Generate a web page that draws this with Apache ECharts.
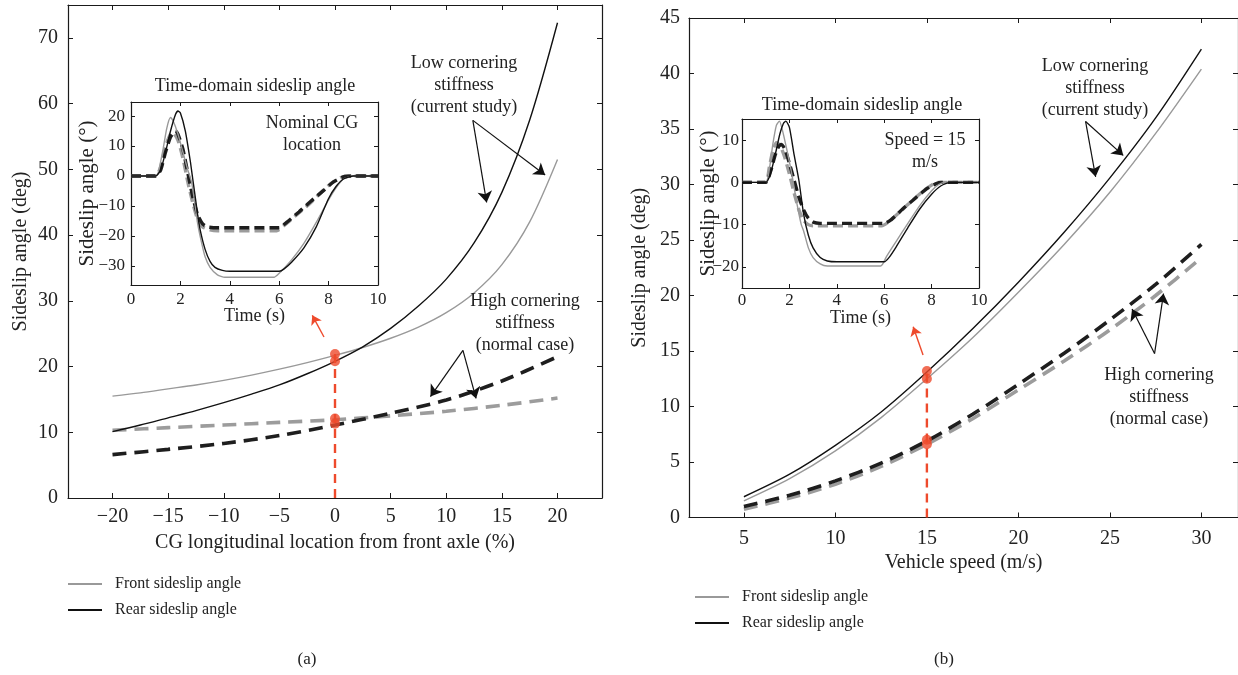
<!DOCTYPE html>
<html><head><meta charset="utf-8">
<script src="https://cdn.jsdelivr.net/npm/echarts@6/dist/echarts.min.js"></script>
<style>html,body{margin:0;padding:0;background:#fff}#c{width:1238px;height:675px}</style>
</head><body><div id="c"></div>
<script>
// ---------------- DATA ----------------
// Panel (a): CG longitudinal location (%)
const cgFine = [-20,-17.5,-15,-12.5,-10,-7.5,-5,-2.5,0,2.5,5,7.5,10,12.5,15,17.5,20];
const cgRearLow  = [10.1,11.1,12.2,13.3,14.5,15.8,17.2,18.9,20.8,23.0,25.8,29.2,33.3,38.8,46.5,57.5,72.3];
const cgFrontLow = [15.5,16.0,16.6,17.2,17.9,18.7,19.6,20.6,21.7,22.9,24.3,26.0,28.2,31.2,35.5,42.0,51.5];
const cgCoarse = [-20,-15,-10,-5,0,5,10,15,20];
const cgRearHigh  = [6.6,7.4,8.3,9.5,11.1,12.9,14.9,17.8,21.5];
const cgFrontHigh = [10.3,10.7,11.1,11.5,11.9,12.5,13.2,14.1,15.2];
const cgMarkX = 0;
const cgMarkY = [21.9,20.8,12.1,11.3];

// Panel (b): vehicle speed (m/s)
const speeds = [5,7.5,10,12.5,15,17.5,20,22.5,25,27.5,30];
const spRearLow   = [1.87,3.9,6.5,9.5,13.1,17.0,21.2,25.7,30.6,36.0,42.2];
const spFrontLow  = [1.5,3.5,6.0,9.0,12.5,16.2,20.3,24.6,29.3,34.6,40.4];
const spRearHigh  = [1.0,2.0,3.3,4.9,6.9,9.3,12.0,14.8,17.8,21.0,24.6];
const spFrontHigh = [0.75,1.75,3.0,4.6,6.6,8.9,11.5,14.1,16.9,20.0,23.4];
const spMarkX = 15;
const spMarkY = [13.2,12.5,7.0,6.6];

// Inset (a): time-domain, nominal CG location
const aRearLowT  = [0,1.0,1.2,1.4,1.6,1.8,1.9,2.0,2.2,2.4,2.5,2.6,2.7,2.8,3.0,3.2,3.4,3.7,4.0,6.0,6.2,6.5,7.0,7.5,8.0,8.3,8.6,9.0,10];
const aRearLowV  = [0,0,2,8,15,20.5,21.7,21,15,5,-1,-7,-13,-18,-24.5,-28.5,-30.5,-31.5,-31.8,-31.8,-31,-28.8,-24,-17,-7.5,-3.5,-1,0,0];
const aFrontLowT = [0,1.0,1.1,1.3,1.45,1.6,1.7,1.9,2.1,2.3,2.45,2.6,2.7,2.85,3.0,3.2,3.5,3.8,5.8,6.0,6.5,7.0,7.5,8.0,8.3,8.6,9.0,10];
const aFrontLowV = [0,0,1,9,16,19.5,18.5,14,8,2,-2,-10,-16,-22,-27,-30.5,-33,-33.8,-33.8,-32.5,-28,-22.5,-15.5,-8,-4,-1,0,0];
const aRearHighT = [0,1.0,1.2,1.4,1.6,1.8,1.9,2.1,2.3,2.5,2.7,2.9,3.1,3.5,6.0,6.3,6.8,7.3,7.8,8.2,8.6,9.0,10];
const aRearHighV = [0,0,2,8,13,15,14,9,1,-7,-13,-16,-17,-17.3,-17.3,-15.5,-12,-8.3,-4.8,-2,-0.3,0,0];
const aFrontHighT = [0,1.0,1.2,1.4,1.6,1.7,1.9,2.1,2.3,2.5,2.7,2.9,3.2,3.5,5.9,6.2,6.7,7.2,7.7,8.1,8.5,8.8,10];
const aFrontHighV = [0,0,3,10,14,14.5,12,6,-2,-9,-14.5,-17,-18,-18.3,-18.3,-16.5,-13,-9.5,-5.5,-2.5,-0.5,0,0];

// Inset (b): time-domain, speed = 15 m/s
const bRearLowT  = [0,1.0,1.2,1.4,1.6,1.75,1.85,2.0,2.2,2.4,2.6,2.8,3.0,3.3,3.6,4.0,6.0,6.2,6.5,7.0,7.5,8.0,8.4,8.8,10];
const bRearLowV  = [0,0,2,6.5,11.5,14,14.5,13,6.5,0.5,-7.5,-12.5,-15.5,-17.8,-18.6,-18.8,-18.8,-17.8,-15.3,-10.7,-6.3,-2.8,-0.8,0,0];
const bFrontLowT = [0,1.0,1.15,1.3,1.45,1.58,1.7,1.9,2.1,2.3,2.5,2.6,2.8,3.0,3.3,3.6,5.85,6.1,6.5,7.0,7.5,8.0,8.3,8.6,10];
const bFrontLowV = [0,0,3,9,13.5,14.5,12.5,7.5,2,-4.5,-10,-11.5,-15.5,-17.8,-19.3,-19.8,-19.8,-17.5,-14,-9.7,-5.5,-2,-0.5,0,0];
const bRearHighT = [0,1.0,1.2,1.4,1.55,1.65,1.8,2.0,2.2,2.4,2.6,2.8,3.0,3.3,6.0,6.3,6.8,7.3,7.8,8.2,8.4,10];
const bRearHighV = [0,0,2.5,6.5,8.5,9,8,4.5,0.5,-3.5,-6.5,-8.5,-9.4,-9.7,-9.7,-8.8,-6.2,-3.8,-1.5,-0.3,0,0];
const bFrontHighT = [0,1.0,1.15,1.3,1.45,1.6,1.8,2.0,2.2,2.4,2.6,2.8,3.0,5.9,6.2,6.7,7.2,7.7,8.1,8.3,10];
const bFrontHighV = [0,0,3.5,7.5,9.4,8.8,6,2,-2.5,-6.5,-9,-10,-10.3,-10.3,-9.3,-6.8,-4.2,-1.8,-0.3,0,0];

// Texts
const legendNames = ['Front sideslip angle','Rear sideslip angle'];
const xNameA = 'CG longitudinal location from front axle (%)';
const xNameB = 'Vehicle speed (m/s)';
const yNameMain = 'Sideslip angle (deg)';
const yNameInset = 'Sideslip angle (°)';
const xNameInset = 'Time (s)';
const insetTitle = 'Time-domain sideslip angle';

// ---------------- CHART ----------------
const FF = '"Liberation Serif", "DejaVu Serif", serif';
const INK = '#1a1a1a';
const RED = '#ee4a2c';
const pair = (xs, ys) => xs.map((x, i) => [x, ys[i]]);
const fmt = v => {
  if (Math.abs(v - Math.round(v)) > 1e-6) return '';
  return v < 0 ? '\u2212' + Math.abs(v) : String(v);
};
function fmtStep(step) {
  return v => (Math.abs(v / step - Math.round(v / step)) > 1e-6 ? '' : fmt(v));
}

function axis(kind, gridIndex, min, max, o) {
  o = o || {};
  const a = {
    type: 'value', gridIndex, min, max,
    position: o.position,
    axisLine: { show: true, onZero: false, lineStyle: { color: INK, width: 1.2 } },
    axisTick: { show: true, inside: true, length: o.tickLen || 5, lineStyle: { color: INK, width: 1 } },
    splitLine: { show: false },
    axisLabel: o.mirror ? { show: false } : {
      show: true, fontFamily: FF, fontSize: o.fontSize || 20, color: '#222',
      margin: o.margin, formatter: fmtStep(o.step), showMinLabel: o.showMin, showMaxLabel: o.showMax
    }
  };
  if (o.interval) a.interval = o.interval;
  if (o.splitNumber) a.splitNumber = o.splitNumber;
  if (o.name) {
    a.name = o.name; a.nameLocation = 'middle'; a.nameGap = o.nameGap;
    a.nameMoveOverlap = false;
    a.nameTextStyle = { fontFamily: FF, fontSize: o.nameSize || 20, color: '#222' };
    if (kind === 'y') a.nameRotate = 90;
  }
  return a;
}

const grids = [
  { left: 68, top: 5, width: 534, height: 493 },
  { left: 131, top: 102, width: 247, height: 183, show: true, backgroundColor: '#fff', borderWidth: 0 },
  { left: 689, top: 18, width: 549, height: 499.5 },
  { left: 742, top: 119, width: 237, height: 169, show: true, backgroundColor: '#fff', borderWidth: 0 }
];

const xAxes = [
  axis('x', 0, -24, 24, { splitNumber: 10, step: 5, margin: 9, showMin: false, showMax: false, name: xNameA, nameGap: 35 }),
  axis('x', 0, -24, 24, { splitNumber: 10, position: 'top', mirror: true }),
  axis('x', 1, 0, 10, { interval: 2, step: 2, margin: 6, fontSize: 17, tickLen: 4, name: xNameInset, nameGap: 22, nameSize: 18 }),
  axis('x', 1, 0, 10, { interval: 2, position: 'top', mirror: true, tickLen: 4 }),
  axis('x', 2, 2, 32, { splitNumber: 6, step: 5, margin: 11, showMin: false, showMax: false, name: xNameB, nameGap: 35 }),
  axis('x', 2, 2, 32, { splitNumber: 6, position: 'top', mirror: true }),
  axis('x', 3, 0, 10, { interval: 2, step: 2, margin: 4, fontSize: 17, tickLen: 4, name: xNameInset, nameGap: 21, nameSize: 18 }),
  axis('x', 3, 0, 10, { interval: 2, position: 'top', mirror: true, tickLen: 4 })
];
const yAxes = [
  axis('y', 0, 0, 75, { interval: 10, step: 10, margin: 10, showMax: false, name: yNameMain, nameGap: 37 }),
  axis('y', 0, 0, 75, { interval: 10, position: 'right', mirror: true }),
  axis('y', 1, -36.4, 24.7, { splitNumber: 6, step: 10, margin: 6, fontSize: 17, tickLen: 4, showMin: false, showMax: false, name: yNameInset, nameGap: 33, nameSize: 21 }),
  axis('y', 1, -36.4, 24.7, { splitNumber: 6, position: 'right', mirror: true, tickLen: 4 }),
  axis('y', 2, 0, 45, { interval: 5, step: 5, margin: 9, name: yNameMain, nameGap: 39 }),
  axis('y', 2, 0, 45, { interval: 5, position: 'right', mirror: true }),
  axis('y', 3, -25, 15, { splitNumber: 4, step: 10, margin: 3, fontSize: 17, tickLen: 4, showMin: false, showMax: false, name: yNameInset, nameGap: 23, nameSize: 21 }),
  axis('y', 3, -25, 15, { splitNumber: 4, position: 'right', mirror: true, tickLen: 4 })
];

const solidBlack = { color: '#111', width: 1.4 };
const solidGray = { color: '#999', width: 1.4 };
const dashBlack = { color: '#1e1e1e', width: 3.6, type: [14, 8] };
const dashGray = { color: '#9c9c9c', width: 3.6, type: [14, 8] };
const dashBlackS = { color: '#1e1e1e', width: 3.4, type: [10, 5] };
const dashGrayS = { color: '#9c9c9c', width: 3.4, type: [10, 5] };

function line(name, xi, data, style, extra) {
  return Object.assign({
    type: 'line', name, xAxisIndex: xi, yAxisIndex: xi, data,
    symbol: 'none', smooth: 0.3,
    lineStyle: style, itemStyle: { color: style.color },
    silent: true, animation: false, z: 3
  }, extra || {});
}
function arrows(segs, color, width, size) {
  return {
    silent: true, animation: false, symbol: ['none', 'arrow'], symbolSize: size,
    label: { show: false }, lineStyle: { color, width, type: 'solid' },
    data: segs.map(s => [{ coord: s[0] }, { coord: s[1] }])
  };
}

const series = [
  // panel (a) main
  line('Front high (a)', 0, pair(cgCoarse, cgFrontHigh), dashGray),
  line('Rear high (a)', 0, pair(cgCoarse, cgRearHigh), dashBlack),
  line(legendNames[0], 0, pair(cgFine, cgFrontLow), solidGray),
  line(legendNames[1], 0, pair(cgFine, cgRearLow), solidBlack, {
    markLine: arrows([
      [[12.39, 57.45], [13.63, 44.97]], [[12.39, 57.45], [18.89, 49.15]],
      [[11.5, 22.47], [8.58, 15.43]], [[11.5, 22.47], [12.68, 15.15]]
    ], '#111', 1.2, 11)
  }),
  line('marker line (a)', 0, [[cgMarkX, 0], [cgMarkX, cgMarkY[0]]], { color: RED, width: 2.4, type: [9, 6] }, {
    smooth: false, z: 5,
    markLine: arrows([[[-0.99, 24.49], [-2.04, 27.79]]], RED, 1.4, 9)
  }),
  { type: 'scatter', xAxisIndex: 0, yAxisIndex: 0, data: cgMarkY.map(y => [cgMarkX, y]), symbolSize: 10,
    itemStyle: { color: RED }, silent: true, animation: false, z: 6 },
  // inset (a)
  line('ia fh', 2, pair(aFrontHighT, aFrontHighV), dashGrayS, { z: 7, smooth: 0.2 }),
  line('ia rh', 2, pair(aRearHighT, aRearHighV), dashBlackS, { z: 7, smooth: 0.2 }),
  line('ia fl', 2, pair(aFrontLowT, aFrontLowV), solidGray, { z: 7, smooth: 0.2 }),
  line('ia rl', 2, pair(aRearLowT, aRearLowV), solidBlack, { z: 7, smooth: 0.2 }),
  // panel (b) main
  line('Front high (b)', 4, pair(speeds, spFrontHigh), dashGray),
  line('Rear high (b)', 4, pair(speeds, spRearHigh), dashBlack),
  line(legendNames[0], 4, pair(speeds, spFrontLow), solidGray),
  line(legendNames[1], 4, pair(speeds, spRearLow), solidBlack, {
    markLine: arrows([
      [[23.67, 35.68], [24.22, 30.69]], [[23.67, 35.68], [25.73, 32.62]],
      [[27.44, 14.77], [26.21, 18.78]], [[27.44, 14.77], [27.93, 20.17]]
    ], '#111', 1.2, 11)
  }),
  line('marker line (b)', 4, [[spMarkX, 0], [spMarkX, spMarkY[0]]], { color: RED, width: 2.4, type: [9, 6] }, {
    smooth: false, z: 5,
    markLine: arrows([[[14.79, 14.64], [14.25, 17.18]]], RED, 1.4, 9)
  }),
  { type: 'scatter', xAxisIndex: 4, yAxisIndex: 4, data: spMarkY.map(y => [spMarkX, y]), symbolSize: 10,
    itemStyle: { color: RED }, silent: true, animation: false, z: 6 },
  // inset (b)
  line('ib fh', 6, pair(bFrontHighT, bFrontHighV), dashGrayS, { z: 7, smooth: 0.2 }),
  line('ib rh', 6, pair(bRearHighT, bRearHighV), dashBlackS, { z: 7, smooth: 0.2 }),
  line('ib fl', 6, pair(bFrontLowT, bFrontLowV), solidGray, { z: 7, smooth: 0.2 }),
  line('ib rl', 6, pair(bRearLowT, bRearLowV), solidBlack, { z: 7, smooth: 0.2 })
];

function txt(text, x, y, size) {
  return { type: 'text', silent: true, z: 100,
    style: { text, x, y, align: 'center', verticalAlign: 'middle', fill: '#222',
      font: size + 'px ' + FF, lineHeight: Math.round(size * 1.22) } };
}

const legendBase = {
  data: legendNames.map(n => ({ name: n, icon: 'rect' })),
  orient: 'vertical', itemWidth: 34, itemHeight: 2, itemGap: 10, padding: 0,
  selectedMode: false, textStyle: { fontFamily: FF, fontSize: 16, color: '#222', padding: [0, 0, 0, 8] }
};

const chart = echarts.init(document.getElementById('c'), null, { renderer: 'canvas' });
chart.setOption({
  animation: false,
  backgroundColor: '#fff',
  grid: grids,
  xAxis: xAxes,
  yAxis: yAxes,
  legend: [
    Object.assign({}, legendBase, { left: 68, top: 576 }),
    Object.assign({}, legendBase, { left: 695, top: 589 })
  ],
  series,
  graphic: [
    txt(insetTitle, 255, 86, 18),
    txt('Nominal CG\nlocation', 312, 134, 18),
    txt('Low cornering\nstiffness\n(current study)', 464, 85.5, 18),
    txt('High cornering\nstiffness\n(normal case)', 525, 323, 18),
    txt(insetTitle, 862, 105, 18),
    txt('Speed = 15\nm/s', 925, 151, 18),
    txt('Low cornering\nstiffness\n(current study)', 1095, 88, 18),
    txt('High cornering\nstiffness\n(normal case)', 1159, 397, 18),
    txt('(a)', 307, 660, 17),
    txt('(b)', 944, 660, 17)
  ]
});
</script>
</body></html>
